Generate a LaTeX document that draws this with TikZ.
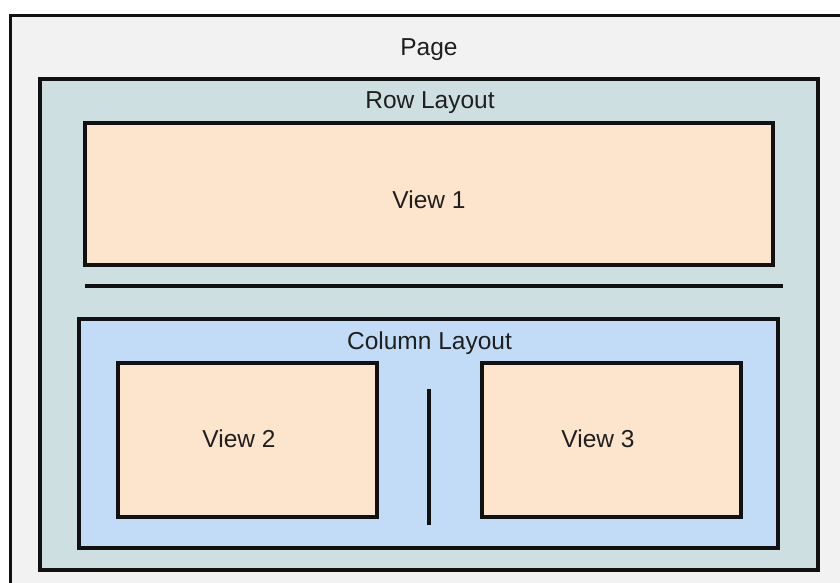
\documentclass[tikz,border=0pt]{standalone}
\usepackage{fontspec}
\setmainfont{Liberation Sans}
\definecolor{pagefill}{HTML}{F2F2F2}
\definecolor{rowfill}{HTML}{CDDFE1}
\definecolor{colfill}{HTML}{C2DCF7}
\definecolor{viewfill}{HTML}{FDE4CD}
\definecolor{edge}{HTML}{111111}
\begin{document}
\begin{tikzpicture}[x=1pt,y=-1pt,
  box/.style={draw=edge, line width=3.2pt, rectangle, inner sep=0pt},
  lbl/.style={anchor=base, inner sep=0pt, font=\fontsize{24.5}{28}\selectfont, text=black!88},
  sep/.style={draw=edge, line width=4pt}]
\useasboundingbox (0,0) rectangle (840,583);
\clip (0,0) rectangle (840,583);
\fill[white] (0,0) rectangle (840,583);
\node[box, draw=edge, line width=2.8pt, fill=pagefill, minimum width=850pt, minimum height=600pt, anchor=north west] (page) at (9,14) {};
\node[box, fill=rowfill, minimum width=778pt, minimum height=491pt] (row) at (429,324.5) {};
\node[box, fill=viewfill, minimum width=688pt, minimum height=142pt] (v1) at (429,194) {};
\node[box, fill=colfill, minimum width=699pt, minimum height=229pt] (col) at (428.5,433.5) {};
\node[box, fill=viewfill, minimum width=259pt, minimum height=154pt] (v2) at (247.5,440) {};
\node[box, fill=viewfill, minimum width=259pt, minimum height=154pt] (v3) at (611.5,440) {};
\coordinate (s1a) at (85,286);
\coordinate (s1b) at (783,286);
\coordinate (s2a) at (429,389);
\coordinate (s2b) at (429,525);
\draw[sep] (s1a) -- (s1b);
\draw[sep] (s2a) -- (s2b);
\node[lbl] (tpage) at (429,56) {Page};
\node[lbl] (trow) at (430,109) {Row Layout};
\node[lbl] (tv1) at (429,208) {View 1};
\node[lbl] (tcol) at (429.5,349) {Column Layout};
\node[lbl] (tv2) at (239,447) {View 2};
\node[lbl] (tv3) at (598,447) {View 3};
\end{tikzpicture}
\end{document}
